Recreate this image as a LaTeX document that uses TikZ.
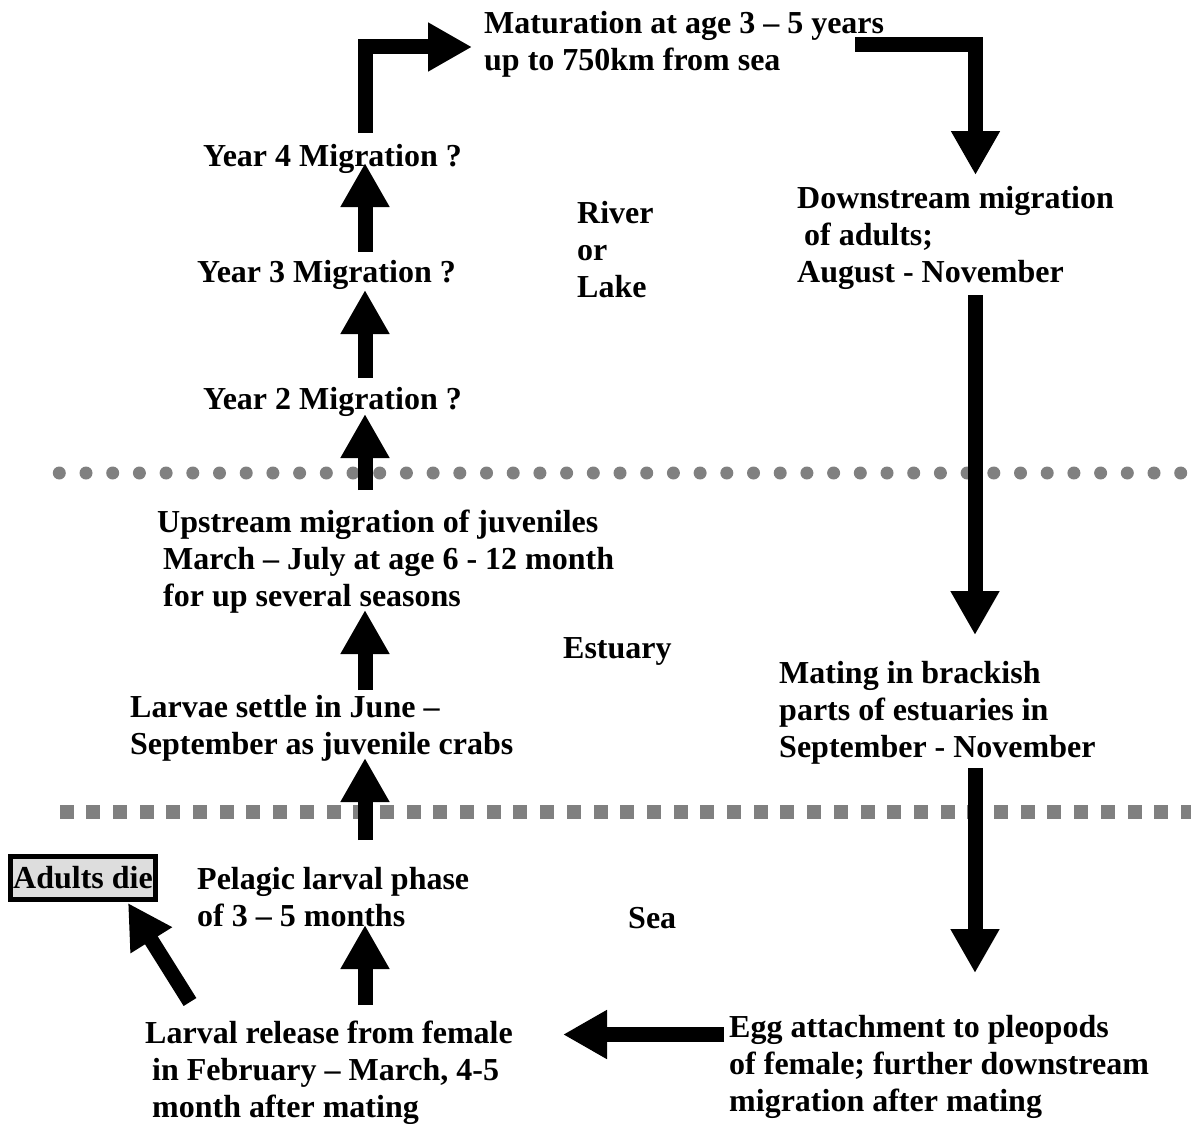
\documentclass[tikz,border=0pt]{standalone}
\usepackage{fontspec}
\setmainfont{Liberation Serif}
\usetikzlibrary{arrows.meta}
\definecolor{dotgray}{HTML}{808080}
\definecolor{boxgray}{HTML}{DDDDDD}
\begin{document}
\begin{tikzpicture}[x=1pt,y=-1pt,
  lbl/.style={anchor=north west, inner sep=0pt, align=left,
    font=\bfseries\fontsize{32}{37}\selectfont},
  blk/.style={draw=black, line width=15pt, line join=miter,
    -{Triangle[width=46pt,length=44pt]}},
  dotc/.style={fill=dotgray, draw=none},
  diebox/.style={draw=black, line width=5pt, fill=boxgray, inner xsep=2.5pt,
    inner ysep=0pt, minimum height=43pt, font=\bfseries\fontsize{32}{37}\selectfont}]
\useasboundingbox (0,0) rectangle (1191,1124);
\fill[white] (0,0) rectangle (1191,1124);

% zone separators
\foreach \i in {0,...,42} \fill[dotc] (59.3+26.7*\i,473) circle (6.5);
\foreach \i in {0,...,42} \fill[dotc] (59.5+26.7*\i,805) rectangle ++(14,14);

% labels
\node[lbl] (mat) at (484,7) {\strut Maturation at age 3 – 5 years\\up to 750km from sea};
\node[lbl] (y4) at (203,140) {\strut Year 4 Migration ?};
\node[lbl] (y3) at (197,256) {\strut Year 3 Migration ?};
\node[lbl] (y2) at (203,383) {\strut Year 2 Migration ?};
\node[lbl] (river) at (577,197) {\strut River\\or\\Lake};
\node[lbl] (down) at (797,182) {\strut Downstream migration\\\hspace*{7pt}of adults;\\August - November};
\node[lbl] (up) at (157,506) {\strut Upstream migration of juveniles\\\hspace*{6pt}March – July at age 6 - 12 month\\\hspace*{6pt}for up several seasons};
\node[lbl] (est) at (563,632) {\strut Estuary};
\node[lbl] (larvae) at (130,691) {\strut Larvae settle in June –\\September as juvenile crabs};
\node[lbl] (mating) at (779,657) {\strut Mating in brackish\\parts of estuaries in\\September - November};
\node[diebox] (die) at (83,878) {Adults die};
\node[lbl] (pelagic) at (197,863) {\strut Pelagic larval phase\\of 3 – 5 months};
\node[lbl] (sea) at (628,902) {\strut Sea};
\node[lbl] (release) at (145,1017) {\strut Larval release from female\\\hspace*{7pt}in February – March, 4-5\\\hspace*{7pt}month after mating};
\node[lbl] (egg) at (729,1011) {\strut Egg attachment to pleopods\\of female; further downstream\\migration after mating};

% connector end points
\coordinate (a1s) at (365,1005); \coordinate (a1e) at (365,925);
\coordinate (a2s) at (365,840);  \coordinate (a2e) at (365,758);
\coordinate (a3s) at (365,690);  \coordinate (a3e) at (365,610);
\coordinate (a4s) at (365,490);  \coordinate (a4e) at (365,414);
\coordinate (a5s) at (365,378);  \coordinate (a5e) at (365,290);
\coordinate (a6s) at (365,252);  \coordinate (a6e) at (365,163);
\coordinate (a7s) at (365,133);  \coordinate (a7c) at (365,47);  \coordinate (a7e) at (472,47);
\coordinate (a8s) at (855,44.5); \coordinate (a8c) at (975.5,44.5); \coordinate (a8e) at (975.5,175);
\coordinate (a9s) at (975,295);  \coordinate (a9e) at (975,635);
\coordinate (a10s) at (975,768); \coordinate (a10e) at (975,973);
\coordinate (a11s) at (724,1034.5); \coordinate (a11e) at (563,1034.5);
\coordinate (a12s) at (190,1002); \coordinate (a12e) at (128,903);

% connectors
\draw[blk] (a1s) -- (a1e);
\draw[blk] (a2s) -- (a2e);
\draw[blk] (a3s) -- (a3e);
\draw[blk] (a4s) -- (a4e);
\draw[blk] (a5s) -- (a5e);
\draw[blk] (a6s) -- (a6e);
\draw[blk] (a7s) -- (a7c) -- (a7e);
\draw[blk] (a8s) -- (a8c) -- (a8e);
\draw[blk] (a9s) -- (a9e);
\draw[blk] (a10s) -- (a10e);
\draw[blk] (a11s) -- (a11e);
\draw[blk] (a12s) -- (a12e);
\end{tikzpicture}
\end{document}
